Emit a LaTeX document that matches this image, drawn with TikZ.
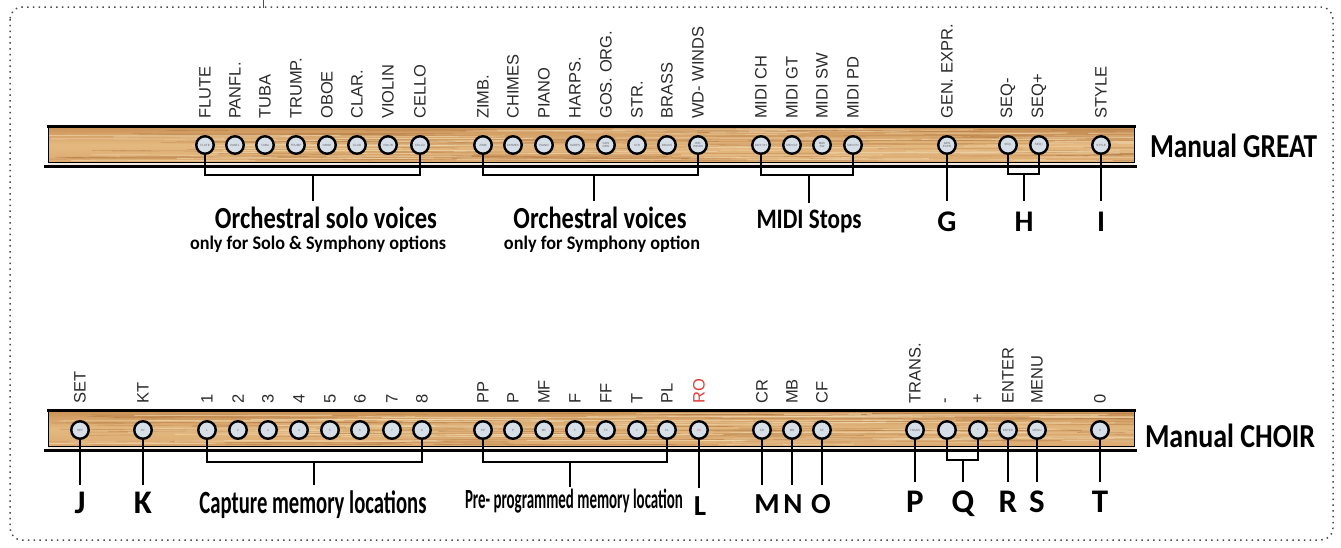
\documentclass[tikz,border=0pt]{standalone}
\usepackage{fontspec}
\setmainfont{Liberation Sans}
\newfontfamily\calb{Carlito}
\usetikzlibrary{calc}
\definecolor{woodtop}{HTML}{CC955A}
\definecolor{woodmid}{HTML}{E4B980}
\definecolor{woodbot}{HTML}{DBAA70}
\definecolor{graindark}{HTML}{A86C38}
\definecolor{grainlight}{HTML}{F3DAB0}
\definecolor{btnfill}{HTML}{D6DEE8}
\definecolor{rored}{HTML}{E23B3B}
\definecolor{lblk}{HTML}{2B2B2B}
\definecolor{stripc}{HTML}{F4ECE0}
\newcommand\fitbox[3]{\resizebox{#1}{#2}{\calb\bfseries #3}}
\newcommand\woodrail[1]{%
  \begin{scope}
    \clip (48,#1+2) rectangle (1134,#1+36);
    \shade[top color=woodtop,bottom color=woodbot,middle color=woodmid] (48,#1+2) rectangle (1134,#1+36);
    \foreach \k in {1,...,110}{%
      \pgfmathsetmacro\gy{#1+3+rnd*32}%
      \pgfmathsetmacro\gx{30+rnd*1100}%
      \pgfmathsetmacro\gl{40+rnd*260}%
      \draw[graindark,opacity=0.4,line width=0.6pt] (\gx,\gy) .. controls (\gx+\gl*0.33,\gy+0.8) and (\gx+\gl*0.66,\gy-0.8) .. (\gx+\gl,\gy+0.3);
    }
    \foreach \k in {1,...,60}{%
      \pgfmathsetmacro\gy{#1+3+rnd*32}%
      \pgfmathsetmacro\gx{30+rnd*1100}%
      \pgfmathsetmacro\gl{40+rnd*260}%
      \draw[grainlight,opacity=0.6,line width=0.9pt] (\gx,\gy) .. controls (\gx+\gl*0.33,\gy-0.8) and (\gx+\gl*0.66,\gy+0.8) .. (\gx+\gl,\gy-0.3);
    }
  \end{scope}
  \fill[stripc] (48,#1+37) rectangle (1134,#1+40);
  \draw[line width=3pt] (46.5,#1+0.5) -- (1135.5,#1+0.5);
  \draw[line width=1pt] (48,#1) -- (48,#1+37) (1134,#1) -- (1134,#1+37);
  \draw[line width=1pt] (48,#1+36.5) -- (1134,#1+36.5);
  \draw[line width=2.3pt] (44,#1+40.5) -- (1137,#1+40.5);
}
\begin{document}
\begin{tikzpicture}[x=1pt,y=-1pt,
  btn/.style={circle,draw=black,line width=2.4pt,fill=btnfill,minimum size=17.5pt,inner sep=0pt,text width=12pt,align=center,font=\fontsize{3}{3.3}\selectfont},
  toplab/.style={rotate=90,anchor=west,inner sep=0pt,font=\fontsize{16.5}{16.5}\selectfont},
  conn/.style={line width=2.5pt,black,line join=miter},
  letA/.style={inner sep=0pt,anchor=base,font=\calb\bfseries\fontsize{30}{30}\selectfont},
  letB/.style={inner sep=0pt,anchor=base,font=\calb\bfseries\fontsize{33}{33}\selectfont},
  letC/.style={inner sep=0pt,anchor=base,font=\calb\bfseries\fontsize{29}{29}\selectfont},
  titl/.style={inner sep=0pt,anchor=base}]
\useasboundingbox (0,0) rectangle (1341,547);
\pgfmathsetseed{12}
% frame
\draw[black!70,line width=1.5pt,dash pattern=on 1.5pt off 4.3pt,rounded corners=12pt] (10,7) rectangle (1333,540);
\draw[black!70,line width=1pt] (263,0) -- (263,8);
% rails
\woodrail{126}
\woodrail{410}
% GREAT buttons
\foreach \x/\lbl/\inn [count=\i] in {205/FLUTE/FLUTE, 235/PANFL./PANFL, 265/TUBA/TUBA, 296/TRUMP./TRUMP, 327/OBOE/OBOE, 357/CLAR./CLAR, 388/VIOLIN/VIOLIN, 420/CELLO/CELLO,
  483/ZIMB./ZIMB, 513/CHIMES/CHIMES, 544/PIANO/PIANO, 575/HARPS./HARPS, 606/GOS. ORG./GOS ORG, 637/STR./STR, 667/BRASS/BRASS, 698/WD- WINDS/WD- WINDS,
  761/MIDI CH/MIDI CH, 792/MIDI GT/MIDI GT, 822/MIDI SW/MIDI SW, 853/MIDI PD/MIDI PD,
  947/GEN. EXPR./GEN EXPR, 1008/SEQ-/SEQ-, 1039/SEQ+/SEQ+, 1101/STYLE/STYLE}{
  \node[btn,text=black!60] (g\i) at (\x,145) {\inn};
  \node[toplab,text=lblk] (gl\i) at (\x,119) {\lbl};
}
% CHOIR buttons
\foreach \x/\lbl/\inn/\c [count=\i] in {80/SET/SET/lblk, 143/KT/KT/lblk, 207/1/1/lblk, 238/2/2/lblk, 268/3/3/lblk, 299/4/4/lblk, 330/5/5/lblk, 360/6/6/lblk, 392/7/7/lblk, 422/8/8/lblk,
  483/PP/PP/lblk, 513/P/P/lblk, 544/MF/MF/lblk, 575/F/F/lblk, 606/FF/FF/lblk, 637/T/T/lblk, 667/PL/PL/lblk, 699/RO/RO/rored,
  762/CR/CR/lblk, 792/MB/MB/lblk, 822/CF/CF/lblk,
  915/TRANS./TRANS/lblk, 947/-/-/lblk, 978/+/+/lblk, 1008/ENTER/ENTER/lblk, 1037/MENU/MENU/lblk, 1100/0/0/lblk}{
  \node[btn,text=\c!70] (c\i) at (\x,430) {\inn};
  \node[toplab,text=\c] (cl\i) at (\x,404) {\lbl};
}
% GREAT labels
\node[titl] (tS) at (326,228.5) {\fitbox{222pt}{21.5pt}{Orchestral solo voices}};
\node[titl] (tSs) at (318,249) {\fitbox{256pt}{13.5pt}{only for Solo \& Symphony options}};
\node[titl] (tO) at (600,228.5) {\fitbox{173pt}{21.5pt}{Orchestral voices}};
\node[titl] (tOs) at (602,249) {\fitbox{196pt}{13.5pt}{only for Symphony option}};
\node[titl] (tM) at (809,228) {\fitbox{105pt}{18.5pt}{MIDI Stops}};
\node[letA] (G) at (947,231) {G};
\node[letA] (H) at (1024,231) {H};
\node[letA] (I) at (1101,231) {I};
\node[titl] (mg) at (1233.5,157) {\fitbox{167pt}{23.5pt}{Manual GREAT}};
% CHOIR labels
\node[titl] (tC) at (313,513) {\fitbox{227pt}{22.8pt}{Capture memory locations}};
\node[titl] (tP) at (574,508) {\fitbox{218pt}{19.5pt}{Pre- programmed memory location}};
\node[letB] (J) at (80,513) {J};
\node[letB] (K) at (143,513) {K};
\node[letC] (L) at (700,515) {L};
\node[letC] (M) at (767,513) {M};
\node[letC] (N) at (793,513) {N};
\node[letC] (O) at (821,513) {O};
\node[letB] (P) at (915,512) {P};
\node[letB] (Q) at (963,512) {Q};
\node[letB] (R) at (1008,512) {R};
\node[letB] (S) at (1037,512) {S};
\node[letB] (T) at (1100,512) {T};
\node[titl] (mc) at (1230,447) {\fitbox{170pt}{23.5pt}{Manual CHOIR}};
% GREAT connectors
\coordinate (bS) at (313,175);
\coordinate (bO) at (594,175);
\coordinate (bM) at (809,175);
\coordinate (bH) at (1024,174);
\draw[conn] (g1.south) |- (bS) -| (g8.south);
\draw[conn,shorten >=6pt] (bS) -- (bS |- tS.north);
\draw[conn] (g9.south) |- (bO) -| (g16.south);
\draw[conn,shorten >=6pt] (bO) -- (bO |- tO.north);
\draw[conn] (g17.south) |- (bM) -| (g20.south);
\draw[conn,shorten >=6.5pt] (bM) -- (bM |- tM.north);
\draw[conn,shorten >=10pt] (g21.south) -- (G.north);
\draw[conn] (g22.south) |- (bH) -| (g23.south);
\draw[conn,shorten >=10pt] (bH) -- (H.north);
\draw[conn,shorten >=10pt] (g24.south) -- (I.north);
% CHOIR connectors
\coordinate (bC) at (314,462);
\coordinate (bP) at (570,462);
\coordinate (bQ) at (963,460);
\draw[conn,shorten >=6pt] (c1.south) -- (J.north);
\draw[conn,shorten >=6pt] (c2.south) -- (K.north);
\draw[conn] (c3.south) |- (bC) -| (c10.south);
\draw[conn,shorten >=5pt] (bC) -- (bC |- tC.north);
\draw[conn] (c11.south) |- (bP) -| (c17.south);
\draw[conn,shorten >=1pt] (bP) -- (bP |- tP.north);
\draw[conn,shorten >=8pt] (c18.south) -- (c18.south |- L.north);
\draw[conn,shorten >=9pt] (c19.south) -- (c19.south |- M.north);
\draw[conn,shorten >=9pt] (c20.south) -- (c20.south |- N.north);
\draw[conn,shorten >=9pt] (c21.south) -- (c21.south |- O.north);
\draw[conn,shorten >=8pt] (c22.south) -- (P.north);
\draw[conn] (c23.south) |- (bQ) -| (c24.south);
\draw[conn,shorten >=8pt] (bQ) -- (Q.north);
\draw[conn,shorten >=8pt] (c25.south) -- (R.north);
\draw[conn,shorten >=8pt] (c26.south) -- (S.north);
\draw[conn,shorten >=8pt] (c27.south) -- (T.north);
\end{tikzpicture}
\end{document}
